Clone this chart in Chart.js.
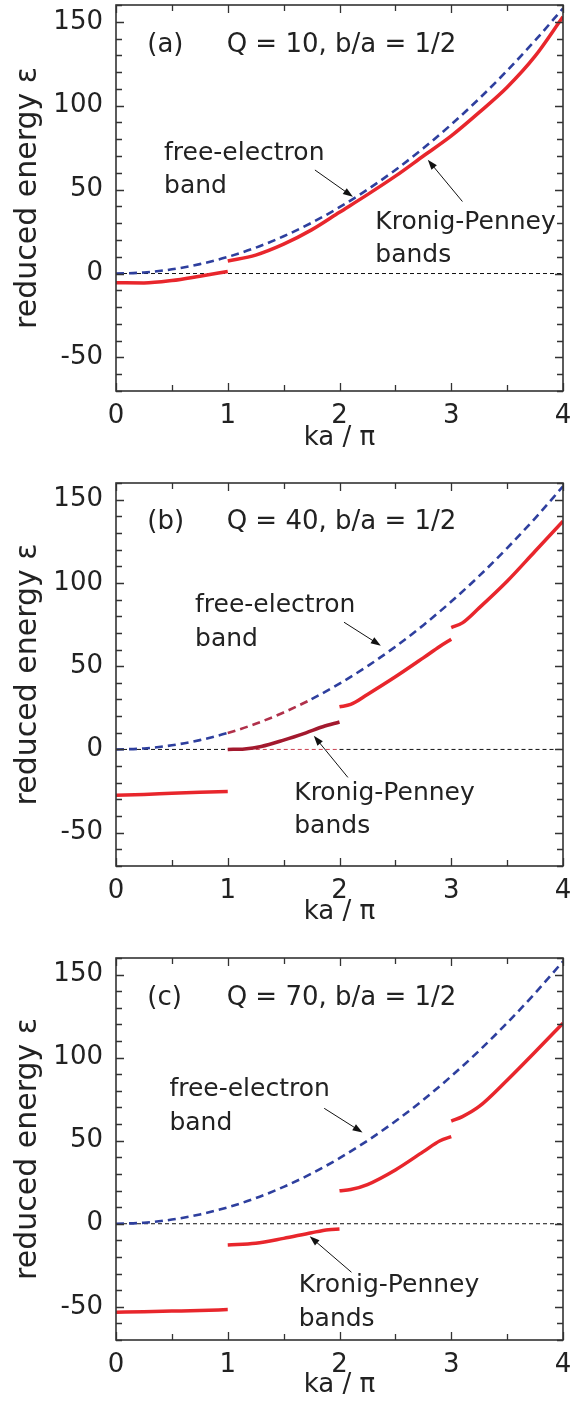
<!DOCTYPE html>
<html>
<head>
<meta charset="utf-8">
<script src="https://cdn.jsdelivr.net/npm/chart.js@4.4.0/dist/chart.umd.min.js"></script>
<style>
  html, body { margin: 0; padding: 0; background: #fff; overflow: hidden; }
  .panel { position: absolute; left: 0; width: 571px; }
  canvas { display: block; }
</style>
</head>
<body>
<div class="panel" style="top:0px"><canvas id="chart-a" width="571" height="470"></canvas></div>
<div class="panel" style="top:478px"><canvas id="chart-b" width="571" height="470"></canvas></div>
<div class="panel" style="top:953px"><canvas id="chart-c" width="571" height="448"></canvas></div>
<script>
// axes
const xTickLabels = [0, 1, 2, 3, 4];
const yTickLabels = [-50, 0, 50, 100, 150];
const xMinorStep = 0.5;
const yMinorStep = 10;

// free-electron band (same in all panels)
const kFree = [0, 0.25, 0.5, 0.75, 1, 1.25, 1.5, 1.75, 2, 2.25, 2.5, 2.75, 3, 3.25, 3.5, 3.75, 4];
const epsFree = [0, 0.6, 2.5, 5.6, 9.9, 15.4, 22.2, 30.2, 39.5, 50, 61.7, 74.6, 88.8, 104.2, 120.9, 138.8, 158];

// zero line
const kZero = [0, 1, 2, 4];
const epsZero = [0, 0, 0, 0];

// (a) Q = 10
const kA1 = [0, 0.25, 0.5, 0.75, 1];
const epsA1 = [-5.5, -5.6, -4.2, -1.6, 1.2];
const kA2 = [1, 1.25, 1.5, 1.75, 2, 2.25, 2.5, 2.75, 3, 3.25, 3.5, 3.75, 4];
const epsA2 = [7.5, 11, 17.5, 26, 36.5, 47, 58, 70, 82, 96, 111, 129.5, 153];

// (b) Q = 40
const kB1 = [0, 0.25, 0.5, 0.75, 1];
const epsB1 = [-27.5, -27, -26.3, -25.7, -25.3];
const kB2 = [1, 1.15, 1.3, 1.5, 1.7, 1.85, 2];
const epsB2 = [0, 0.3, 1.8, 5.6, 10, 13.6, 16.5];
const kB3 = [2, 2.1, 2.25, 2.5, 2.75, 2.9, 3];
const epsB3 = [25.6, 27, 33, 43.6, 55, 62, 66.2];
const kB4 = [3, 3.1, 3.25, 3.5, 3.75, 4];
const epsB4 = [73.2, 76, 85, 101, 119, 137];

// (c) Q = 70
const kC1 = [0, 0.25, 0.5, 0.75, 1];
const epsC1 = [-53.3, -53, -52.6, -52.2, -51.7];
const kC2 = [1, 1.25, 1.5, 1.75, 1.9, 2];
const epsC2 = [-12.8, -11.8, -8.8, -5.4, -3.6, -3.2];
const kC3 = [2, 2.1, 2.25, 2.5, 2.75, 2.9, 3];
const epsC3 = [19.8, 20.6, 23.6, 32.4, 43.4, 50, 52.4];
const kC4 = [3, 3.1, 3.25, 3.5, 3.75, 4];
const epsC4 = [61.8, 64.5, 70.6, 86.4, 103.4, 120.8];

const FONT = "'DejaVu Sans', sans-serif";
const RED = '#e8262c';
const DARKRED = '#a3192e';
const BLUE = '#2e3f9e';
const INK = '#222';

function pts(ks, es) {
  return ks.map((k, i) => ({ x: k, y: es[i] }));
}

// cadre, graduations vers l'intérieur, textes et flèches
const bandDecor = {
  id: 'bandDecor',
  afterDatasetsDraw(chart, args, opts) {
    const { ctx, chartArea: a, scales: { x, y } } = chart;
    ctx.save();
    ctx.strokeStyle = '#333';
    ctx.lineWidth = 1.3;
    ctx.beginPath();
    for (let v = x.min; v <= x.max + 1e-9; v += xMinorStep) {
      const px = Math.round(x.getPixelForValue(v)) + 0.5;
      const len = xTickLabels.includes(v) ? 8 : 6;
      ctx.moveTo(px, a.bottom); ctx.lineTo(px, a.bottom - len);
      ctx.moveTo(px, a.top); ctx.lineTo(px, a.top + len);
    }
    for (let v = -70; v <= 160; v += yMinorStep) {
      const py = Math.round(y.getPixelForValue(v)) + 0.5;
      const len = yTickLabels.includes(v) ? 8 : 6;
      ctx.moveTo(a.left, py); ctx.lineTo(a.left + len, py);
      ctx.moveTo(a.right, py); ctx.lineTo(a.right - len, py);
    }
    ctx.stroke();
    ctx.lineWidth = 1.6;
    ctx.strokeRect(a.left, a.top, a.right - a.left, a.bottom - a.top);

    // textes
    ctx.fillStyle = INK;
    ctx.textAlign = 'left';
    ctx.textBaseline = 'alphabetic';
    opts.texts.forEach(t => {
      ctx.font = `${t.size}px ${FONT}`;
      ctx.fillText(t.text, x.getPixelForValue(t.x), y.getPixelForValue(t.y));
    });

    // flèches
    ctx.strokeStyle = '#111';
    ctx.fillStyle = '#111';
    ctx.lineWidth = 1;
    opts.arrows.forEach(ar => {
      const x0 = x.getPixelForValue(ar.from[0]), y0 = y.getPixelForValue(ar.from[1]);
      const x1 = x.getPixelForValue(ar.to[0]), y1 = y.getPixelForValue(ar.to[1]);
      const ang = Math.atan2(y1 - y0, x1 - x0);
      ctx.beginPath();
      ctx.moveTo(x0, y0);
      ctx.lineTo(x1 - 6 * Math.cos(ang), y1 - 6 * Math.sin(ang));
      ctx.stroke();
      ctx.beginPath();
      ctx.moveTo(x1, y1);
      ctx.lineTo(x1 - 10 * Math.cos(ang) + 3.5 * Math.sin(ang), y1 - 10 * Math.sin(ang) - 3.5 * Math.cos(ang));
      ctx.lineTo(x1 - 10 * Math.cos(ang) - 3.5 * Math.sin(ang), y1 - 10 * Math.sin(ang) + 3.5 * Math.cos(ang));
      ctx.closePath();
      ctx.fill();
    });
    ctx.restore();
  }
};

function tintSegment(range, tint, base) {
  return c => (range && c.p0.parsed.x >= range[0] - 1e-9 && c.p1.parsed.x <= range[1] + 1e-9) ? tint : base;
}

function makeChart(id, panel) {
  const bandSets = panel.bands.map(b => ({
    data: pts(b.k, b.eps),
    borderColor: b.color || RED,
    borderWidth: 3.5,
    cubicInterpolationMode: 'monotone',
    pointRadius: 0
  }));
  const datasets = bandSets.concat([
    {
      data: pts(kFree, epsFree),
      borderColor: BLUE,
      borderWidth: 2.6,
      borderDash: [8, 5],
      cubicInterpolationMode: 'monotone',
      pointRadius: 0,
      segment: { borderColor: tintSegment(panel.freeTint, '#b0304a', BLUE) }
    },
    {
      data: pts(kZero, epsZero),
      borderColor: '#111',
      borderWidth: 1,
      borderDash: [4, 3],
      pointRadius: 0,
      segment: { borderColor: tintSegment(panel.zeroTint, '#c84050', '#111') }
    }
  ]);

  new Chart(document.getElementById(id), {
    type: 'line',
    data: { datasets: datasets },
    options: {
      responsive: false,
      animation: false,
      layout: { padding: { top: 5, right: 8, left: 0, bottom: 0 } },
      plugins: {
        legend: { display: false },
        tooltip: { enabled: false },
        bandDecor: { texts: panel.texts, arrows: panel.arrows }
      },
      scales: {
        x: {
          type: 'linear',
          min: 0,
          max: 4,
          grid: { display: false, drawTicks: false },
          border: { display: false },
          afterBuildTicks: s => { s.ticks = xTickLabels.map(v => ({ value: v })); },
          afterFit: s => {
            s.height = panel.height - panel.areaBottom;
            s.paddingLeft = 0;
            s.paddingRight = 0;
          },
          ticks: { font: { family: FONT, size: 26 }, color: INK, padding: 10, maxRotation: 0, autoSkip: false },
          title: {
            display: true,
            text: 'ka / π',
            font: { family: FONT, size: 26 },
            color: INK,
            padding: { top: 0, bottom: panel.xTitlePad }
          }
        },
        y: {
          min: -70,
          max: 160,
          grid: { display: false, drawTicks: false },
          border: { display: false },
          afterBuildTicks: s => { s.ticks = yTickLabels.map(v => ({ value: v })); },
          afterFit: s => {
            s.width = 116;
            s.paddingTop = 0;
            s.paddingBottom = 0;
          },
          ticks: { font: { family: FONT, size: 26 }, color: INK, padding: 13, autoSkip: false },
          title: {
            display: true,
            text: 'reduced energy ε',
            font: { family: FONT, size: 30 },
            color: INK,
            padding: { top: 10, bottom: 0 }
          }
        }
      }
    },
    plugins: [bandDecor]
  });
}

makeChart('chart-a', {
  height: 470, areaBottom: 391, xTitlePad: 16,
  bands: [{ k: kA1, eps: epsA1 }, { k: kA2, eps: epsA2 }],
  texts: [
    { text: '(a)', x: 0.28, y: 132, size: 26 },
    { text: 'Q = 10, b/a = 1/2', x: 0.99, y: 132, size: 26 },
    { text: 'free-electron', x: 0.43, y: 67.8, size: 25 },
    { text: 'band', x: 0.43, y: 48, size: 25 },
    { text: 'Kronig-Penney', x: 2.32, y: 26.5, size: 25 },
    { text: 'bands', x: 2.32, y: 6.6, size: 25 }
  ],
  arrows: [
    { from: [1.78, 61.7], to: [2.12, 45.7] },
    { from: [3.10, 42.9], to: [2.79, 67.8] }
  ]
});

makeChart('chart-b', {
  height: 470, areaBottom: 388, xTitlePad: 20,
  freeTint: [1, 1.75], zeroTint: [1, 2],
  bands: [{ k: kB1, eps: epsB1 }, { k: kB2, eps: epsB2, color: DARKRED }, { k: kB3, eps: epsB3 }, { k: kB4, eps: epsB4 }],
  texts: [
    { text: '(b)', x: 0.28, y: 132.5, size: 26 },
    { text: 'Q = 40, b/a = 1/2', x: 0.99, y: 132.5, size: 26 },
    { text: 'free-electron', x: 0.707, y: 82.4, size: 25 },
    { text: 'band', x: 0.707, y: 62.3, size: 25 },
    { text: 'Kronig-Penney', x: 1.595, y: -30.5, size: 25 },
    { text: 'bands', x: 1.595, y: -49.9, size: 25 }
  ],
  arrows: [
    { from: [2.04, 76.4], to: [2.37, 62.3] },
    { from: [2.075, -16.8], to: [1.77, 8.2] }
  ]
});

makeChart('chart-c', {
  height: 448, areaBottom: 387, xTitlePad: 0,
  bands: [{ k: kC1, eps: epsC1 }, { k: kC2, eps: epsC2 }, { k: kC3, eps: epsC3 }, { k: kC4, eps: epsC4 }],
  texts: [
    { text: '(c)', x: 0.28, y: 132, size: 26 },
    { text: 'Q = 70, b/a = 1/2', x: 0.99, y: 132, size: 26 },
    { text: 'free-electron', x: 0.478, y: 77.1, size: 25 },
    { text: 'band', x: 0.478, y: 56.5, size: 25 },
    { text: 'Kronig-Penney', x: 1.635, y: -41.2, size: 25 },
    { text: 'bands', x: 1.635, y: -61.7, size: 25 }
  ],
  arrows: [
    { from: [1.863, 69.5], to: [2.206, 54.9] },
    { from: [2.107, -29.2], to: [1.733, -7.6] }
  ]
});
</script>
</body>
</html>
